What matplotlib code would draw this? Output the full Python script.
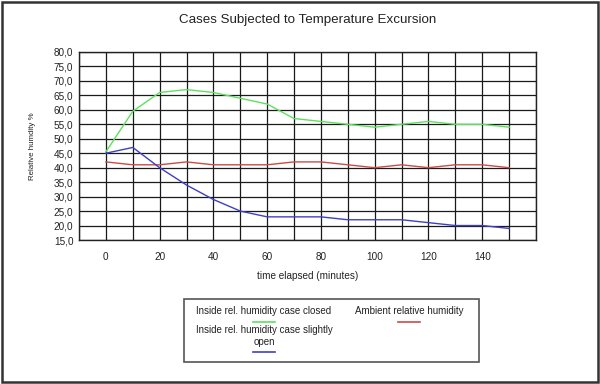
import matplotlib
matplotlib.use("Agg")
import matplotlib.pyplot as plt
from matplotlib.lines import Line2D
from matplotlib.patches import Rectangle
from matplotlib.ticker import FuncFormatter, MultipleLocator

plt.rcParams["font.family"] = ["Liberation Sans", "DejaVu Sans"]

minutes = [0, 10, 20, 30, 40, 50, 60, 70, 80, 90, 100, 110, 120, 130, 140, 150]
closed = [45.5, 59.5, 66, 67, 66, 64, 62, 57, 56, 55, 54, 55, 56, 55, 55, 54]
ambient = [42, 41, 41, 42, 41, 41, 41, 42, 42, 41, 40, 41, 40, 41, 41, 40]
slightly_open = [45, 47, 40, 34, 29, 25, 23, 23, 23, 22, 22, 22, 21, 20, 20, 19]

labels = ["Inside rel. humidity case closed", "Ambient relative humidity",
          "Inside rel. humidity case slightly\nopen"]
colors = ["#5ee05e", "#cc4a4a", "#3f3fc4"]

fig = plt.figure(figsize=(6, 3.84), dpi=100)
ax = fig.add_axes([0.1317, 0.375, 0.7616, 0.4896])

for y, c in zip([closed, ambient, slightly_open], colors):
    ax.plot(minutes, y, color=c, lw=1.0, zorder=3)

ax.set_xlim(-10, 160)
ax.set_ylim(15, 80)
ax.xaxis.set_major_locator(MultipleLocator(20))
ax.xaxis.set_minor_locator(MultipleLocator(10))
ax.yaxis.set_major_locator(MultipleLocator(5))
ax.xaxis.set_major_formatter(FuncFormatter(lambda v, p: f"{v:.0f}" if 0 <= v <= 140 else ""))
ax.yaxis.set_major_formatter(FuncFormatter(lambda v, p: f"{v:.1f}".replace(".", ",")))
ax.grid(True, which="both", color="#1a1a1a", lw=0.9)
ax.tick_params(which="both", length=0, labelsize=7.2, colors="#222222")
ax.tick_params(axis="x", pad=9)
ax.tick_params(axis="y", pad=4)
for s in ax.spines.values():
    s.set_color("#222222")
    s.set_linewidth(1.0)

ax.set_xlabel("time elapsed (minutes)", fontsize=7.2, color="#222222", labelpad=6)
ax.set_ylabel("Relative humdity %", fontsize=5.7, color="#222222", labelpad=13)
fig.text(0.512, 0.947, "Cases Subjected to Temperature Excursion", ha="center", va="center",
         fontsize=9.6, color="#222222")

# legend box drawn by hand (text above, sample line below)
fig.patches.append(Rectangle((184 / 600, 1 - 362 / 384), 295 / 600, 63 / 384,
                             transform=fig.transFigure, fill=False, ec="#555555", lw=1.2))
spots = [(264, 311, 322), (409, 311, 322), (264, 336, 352)]
for (cx, ty, ly), lab, c in zip(spots, labels, colors):
    fig.text(cx / 600, 1 - ty / 384, lab, ha="center", va="center", fontsize=7,
             color="#222222", linespacing=1.35)
    fig.lines.append(Line2D([(cx - 11) / 600, (cx + 11) / 600], [1 - ly / 384] * 2,
                            transform=fig.transFigure, color=c, lw=1.2))

# outer frame
fig.patches.append(Rectangle((0.003, 0.004), 0.993, 0.992, transform=fig.transFigure,
                             fill=False, ec="#333333", lw=1.8))

fig.savefig("out.png", dpi=100)
